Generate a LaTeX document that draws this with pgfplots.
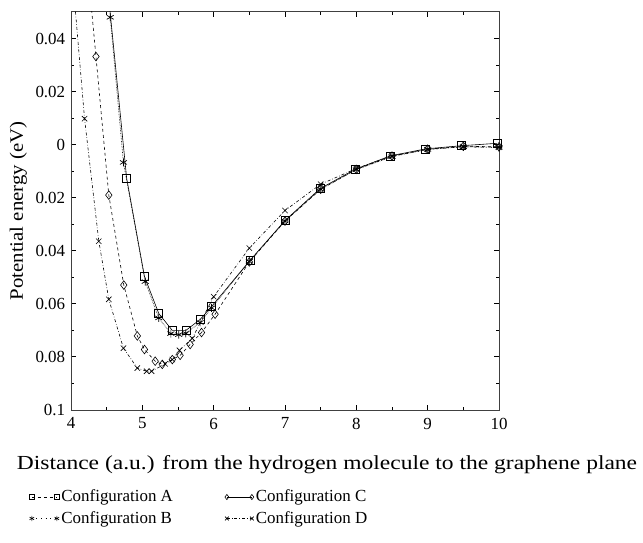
\documentclass[border=0pt]{standalone}
\usepackage{pgfplots}
\pgfplotsset{compat=1.18}
\usepackage{fontspec}
\setmainfont{Liberation Serif}
\begin{document}
\fontsize{17}{20}\selectfont
\begin{tikzpicture}
\begin{axis}[
  scale only axis,
  width=428bp, height=398bp,
  xmin=4, xmax=10, ymin=-0.1, ymax=0.05,
  xtick={4,5,6,7,8,9,10},
  xticklabels={4,5,6,7,8,9,10},
  minor x tick num=1,
  ytick={-0.1,-0.08,-0.06,-0.04,-0.02,0,0.02,0.04},
  yticklabels={0.1,0.08,0.06,0.04,0.02,0,0.02,0.04},
  minor y tick num=1,
  tick align=inside,
  major tick length=5bp, minor tick length=3bp,
  every tick/.style={black, line width=0.9pt},
  axis line style={black!75, line width=1pt},
  tick label style={font=\fontsize{17}{20}\selectfont},
  xticklabel style={yshift=-2bp},
  xlabel={\scalebox{1.18}[1]{Distance (a.u.) from the hydrogen molecule to the graphene plane}},
  ylabel={\scalebox{1.1}[1]{Potential energy (eV)}},
  xlabel style={yshift=-15bp, xshift=42bp, font=\fontsize{20}{22}\selectfont},
  ylabel style={yshift=-3bp, font=\fontsize{19}{22}\selectfont},
  legend columns=2,
  legend style={draw=none, fill=none, at={(rel axis cs:-0.105,-0.19)}, anchor=north west,
    font=\fontsize{17}{20}\selectfont, row sep=3pt,
    /tikz/every even column/.append style={column sep=50bp}},
  legend cell align=left,
  legend image code/.code={\draw[#1, mark size=2.6bp] plot coordinates {(0bp,0bp) (25bp,0bp)};},
  clip=true,
]
% Configuration A
\addplot[forget plot, black, line width=0.6pt, mark=square, mark size=4bp, mark options={solid, line width=0.6pt}] coordinates {
(4.5,0.063) (4.78,-0.0126) (5.03,-0.0497) (5.23,-0.0636) (5.42,-0.0700) (5.61,-0.0700) (5.81,-0.0659) (5.97,-0.0610) (6.51,-0.0436) (7.0,-0.0286) (7.49,-0.0166) (7.99,-0.0092) (8.48,-0.0042) (8.97,-0.0016) (9.47,-0.0004) (9.97,0.0005)
};
% Configuration C
\addplot[forget plot, black, line width=0.6pt, dashed, mark=diamond, mark size=4.3bp, mark options={solid, line width=0.6pt}] coordinates {
(4.25,0.062) (4.35,0.0332) (4.53,-0.0190) (4.74,-0.0529) (4.93,-0.0721) (5.03,-0.0772) (5.18,-0.0816) (5.28,-0.0828) (5.42,-0.0810) (5.53,-0.0794) (5.67,-0.0753) (5.83,-0.0708) (6.02,-0.0639) (6.5,-0.0442) (7.0,-0.0288) (7.5,-0.0168) (8.0,-0.0093) (8.5,-0.0043) (9.0,-0.0017) (9.5,-0.0006) (10.0,-0.0008)
};
% Configuration B
\addplot[forget plot, black, line width=0.6pt, densely dotted, mark=asterisk, mark size=4bp, mark options={solid, line width=0.7pt}] coordinates {
(4.55,0.048) (4.735,-0.0067) (5.04,-0.0516) (5.23,-0.0653) (5.40,-0.0712) (5.51,-0.0716) (5.61,-0.0711) (5.81,-0.0670) (5.97,-0.0615) (6.5,-0.0440) (7.0,-0.0288) (7.5,-0.0168) (8.0,-0.0094) (8.5,-0.0045) (9.0,-0.0018) (9.5,-0.0008) (10.0,-0.0010)
};
% Configuration D
\addplot[forget plot, black, line width=0.6pt, dashdotted, mark=x, mark size=3.8bp, mark options={solid, line width=0.6pt}] coordinates {
(4.0,0.070) (4.19,0.0098) (4.39,-0.0364) (4.53,-0.0583) (4.735,-0.0767) (4.93,-0.0842) (5.06,-0.0854) (5.13,-0.0854) (5.32,-0.0826) (5.42,-0.0810) (5.52,-0.0775) (5.70,-0.0730) (6.0,-0.0573) (6.5,-0.0390) (7.0,-0.0248) (7.5,-0.0149) (8.0,-0.0090) (8.5,-0.0042) (9.0,-0.0018) (9.5,-0.0008) (10.0,-0.0010)
};
\addlegendimage{black, line width=0.6pt, dashed, mark=square, mark options={solid}}
\addlegendentry{Configuration A}
\addlegendimage{black, line width=1pt, mark=diamond, mark options={solid, line width=0.6pt}}
\addlegendentry{Configuration C}
\addlegendimage{black, line width=0.6pt, loosely dotted, mark=asterisk, mark options={solid}}
\addlegendentry{Configuration B}
\addlegendimage{black, line width=0.6pt, dashdotted, mark=x, mark options={solid}}
\addlegendentry{Configuration D}
\end{axis}
\pgfresetboundingbox
\path[use as bounding box] ([shift={(-71bp,-133bp)}]current axis.south west) rectangle ([shift={(144bp,12bp)}]current axis.north east);
\end{tikzpicture}
\end{document}
